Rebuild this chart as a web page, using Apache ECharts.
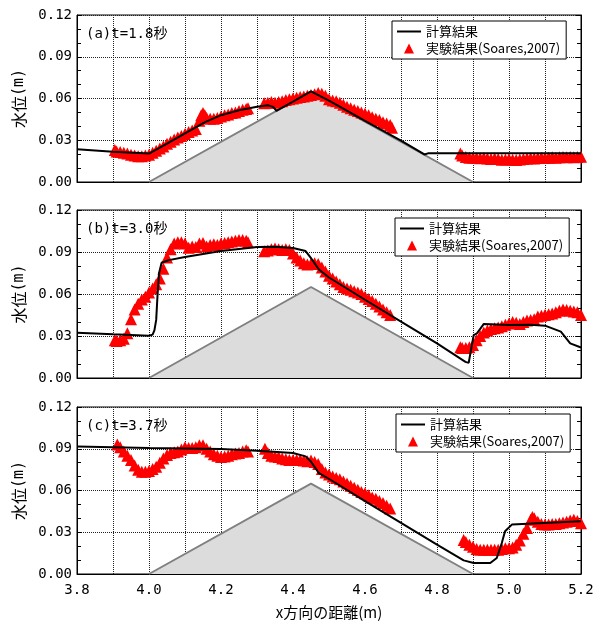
<!DOCTYPE html>
<html><head><meta charset="utf-8">
<script src="https://cdn.jsdelivr.net/npm/echarts@6/dist/echarts.min.js"></script>
<style>html,body{margin:0;padding:0;background:#fff}#c{width:601px;height:624px}</style>
</head><body><div id="c"></div>
<script>
const panelLabels = ['(a)t=1.8秒', '(b)t=3.0秒', '(c)t=3.7秒'];
const nameCalc = '計算結果';
const nameExp = '実験結果(Soares,2007)';
const bedX = [4.0, 4.45, 4.9];
const bedY = [0, 0.065, 0];

const calcA = [[3.8,0.0235],[3.9,0.0218],[4.0,0.0204],[4.05,0.0275],[4.1,0.035],[4.157,0.0432],[4.2,0.048],[4.25,0.0515],[4.3,0.054],[4.33,0.0552],[4.345,0.054],[4.354,0.0512],[4.36,0.052],[4.4,0.0578],[4.45,0.0652],[4.5,0.0585],[4.6,0.044],[4.7,0.0298],[4.765,0.0198],[4.775,0.0206],[5.2,0.0206]];
const expA = [[3.905,0.023],[3.91,0.022],[3.92,0.0215],[3.93,0.021],[3.94,0.0205],[3.95,0.0195],[3.96,0.019],[3.97,0.0185],[3.98,0.0185],[3.99,0.019],[4.0,0.0195],[4.01,0.021],[4.02,0.0225],[4.03,0.024],[4.04,0.0255],[4.05,0.0275],[4.06,0.029],[4.07,0.0305],[4.08,0.032],[4.09,0.033],[4.1,0.0345],[4.11,0.036],[4.12,0.037],[4.13,0.038],[4.14,0.044],[4.145,0.048],[4.15,0.0495],[4.155,0.048],[4.16,0.046],[4.17,0.0455],[4.18,0.0455],[4.19,0.046],[4.2,0.047],[4.21,0.048],[4.22,0.0485],[4.23,0.0495],[4.24,0.05],[4.25,0.051],[4.26,0.052],[4.27,0.0525],[4.275,0.053],
[4.32,0.0565],[4.33,0.057],[4.34,0.0575],[4.35,0.057],[4.36,0.0575],[4.37,0.058],[4.38,0.059],[4.39,0.0595],[4.4,0.06],[4.41,0.0605],[4.42,0.061],[4.43,0.0615],[4.44,0.062],[4.45,0.0625],[4.46,0.063],[4.47,0.064],[4.48,0.0635],[4.49,0.062],[4.5,0.0595],[4.51,0.0585],[4.52,0.058],[4.53,0.057],[4.54,0.0555],[4.55,0.054],[4.56,0.053],[4.57,0.052],[4.58,0.051],[4.59,0.05],[4.6,0.049],[4.61,0.048],[4.62,0.0465],[4.63,0.0455],[4.64,0.0445],[4.65,0.043],[4.66,0.042],[4.67,0.041],[4.675,0.039],
[4.865,0.0205],[4.87,0.019],[4.88,0.018],[4.89,0.0175],[4.9,0.0175],[4.91,0.0172],[4.92,0.017],[4.93,0.0172],[4.94,0.0168],[4.95,0.0165],[4.96,0.0168],[4.97,0.0165],[4.98,0.016],[4.99,0.0162],[5.0,0.0165],[5.01,0.016],[5.02,0.0158],[5.03,0.0162],[5.04,0.0165],[5.05,0.0168],[5.06,0.017],[5.07,0.0168],[5.08,0.0172],[5.09,0.0175],[5.1,0.0172],[5.11,0.0175],[5.12,0.0178],[5.13,0.0175],[5.14,0.0178],[5.15,0.018],[5.16,0.0178],[5.17,0.018],[5.18,0.0178],[5.19,0.018],[5.2,0.0182]];

const calcB = [[3.8,0.0324],[3.9,0.0312],[4.0,0.0302],[4.01,0.031],[4.015,0.034],[4.02,0.0415],[4.024,0.0607],[4.028,0.075],[4.035,0.0823],[4.055,0.0842],[4.1,0.0864],[4.2,0.0907],[4.3,0.0936],[4.35,0.0938],[4.4,0.0929],[4.435,0.0907],[4.449,0.086],[4.472,0.0775],[4.5,0.0718],[4.6,0.0559],[4.7,0.0403],[4.8,0.0247],[4.879,0.0115],[4.888,0.0108],[4.902,0.0307],[4.911,0.0319],[4.93,0.0386],[5.0,0.0379],[5.06,0.038],[5.1,0.0374],[5.144,0.0331],[5.17,0.0247],[5.2,0.0218]];
const expB = [[3.905,0.027],[3.91,0.0265],[3.92,0.027],[3.93,0.028],[3.94,0.032],[3.95,0.042],[3.96,0.049],[3.97,0.053],[3.98,0.056],[3.99,0.058],[4.0,0.061],[4.01,0.064],[4.02,0.067],[4.03,0.071],[4.04,0.078],[4.05,0.086],[4.06,0.092],[4.07,0.096],[4.08,0.097],[4.09,0.097],[4.1,0.096],[4.11,0.093],[4.12,0.094],[4.13,0.0935],[4.14,0.096],[4.15,0.0965],[4.16,0.094],[4.17,0.095],[4.18,0.0955],[4.19,0.095],[4.2,0.096],[4.21,0.0965],[4.22,0.097],[4.23,0.0975],[4.24,0.098],[4.25,0.0985],[4.26,0.0985],[4.27,0.098],[4.275,0.097],
[4.32,0.0905],[4.33,0.091],[4.34,0.092],[4.35,0.0925],[4.36,0.092],[4.37,0.0915],[4.38,0.092],[4.39,0.0915],[4.4,0.089],[4.41,0.086],[4.42,0.084],[4.43,0.082],[4.44,0.081],[4.45,0.0815],[4.46,0.082],[4.47,0.0815],[4.48,0.079],[4.49,0.076],[4.5,0.073],[4.51,0.071],[4.52,0.069],[4.53,0.067],[4.54,0.065],[4.55,0.064],[4.56,0.063],[4.57,0.062],[4.58,0.061],[4.59,0.06],[4.6,0.058],[4.61,0.0565],[4.62,0.055],[4.63,0.053],[4.64,0.051],[4.65,0.049],[4.66,0.047],[4.67,0.045],
[4.865,0.022],[4.87,0.0215],[4.88,0.0215],[4.89,0.022],[4.9,0.0235],[4.91,0.027],[4.92,0.03],[4.93,0.0325],[4.94,0.034],[4.95,0.035],[4.96,0.0355],[4.97,0.036],[4.98,0.037],[4.99,0.038],[5.0,0.039],[5.01,0.04],[5.02,0.0395],[5.03,0.0385],[5.04,0.04],[5.05,0.041],[5.06,0.0415],[5.07,0.042],[5.08,0.044],[5.09,0.0445],[5.1,0.045],[5.11,0.0455],[5.12,0.046],[5.13,0.047],[5.14,0.048],[5.15,0.049],[5.16,0.0485],[5.17,0.048],[5.18,0.0475],[5.19,0.047],[5.2,0.045]];

const calcC = [[3.8,0.0917],[4.0,0.0905],[4.2,0.0898],[4.3,0.0886],[4.4,0.0869],[4.435,0.0845],[4.449,0.081],[4.472,0.0725],[4.503,0.0679],[4.6,0.0523],[4.7,0.0367],[4.8,0.0211],[4.874,0.0098],[4.902,0.0079],[4.948,0.0079],[4.966,0.0115],[4.98,0.0223],[4.989,0.0307],[5.008,0.0355],[5.2,0.0379]];
const expC = [[3.912,0.093],[3.92,0.091],[3.93,0.088],[3.94,0.085],[3.95,0.082],[3.96,0.078],[3.97,0.075],[3.98,0.0735],[3.99,0.0735],[4.0,0.074],[4.01,0.0755],[4.02,0.077],[4.03,0.08],[4.04,0.083],[4.05,0.0855],[4.06,0.087],[4.07,0.0875],[4.08,0.088],[4.09,0.0895],[4.1,0.091],[4.11,0.0905],[4.12,0.0905],[4.13,0.091],[4.14,0.0925],[4.15,0.0925],[4.16,0.09],[4.17,0.088],[4.18,0.086],[4.19,0.085],[4.2,0.084],[4.21,0.0845],[4.22,0.085],[4.23,0.086],[4.24,0.0865],[4.25,0.087],[4.26,0.088],[4.27,0.089],[4.275,0.088],
[4.322,0.09],[4.33,0.087],[4.34,0.085],[4.35,0.0845],[4.36,0.084],[4.37,0.083],[4.38,0.0825],[4.39,0.082],[4.4,0.082],[4.41,0.082],[4.42,0.082],[4.43,0.0815],[4.44,0.081],[4.45,0.0815],[4.46,0.0805],[4.47,0.079],[4.48,0.0755],[4.49,0.073],[4.5,0.0715],[4.51,0.07],[4.52,0.069],[4.53,0.068],[4.54,0.0665],[4.55,0.065],[4.56,0.0635],[4.57,0.062],[4.58,0.0605],[4.59,0.059],[4.6,0.058],[4.61,0.0565],[4.62,0.055],[4.63,0.054],[4.64,0.0525],[4.65,0.051],[4.66,0.049],[4.67,0.047],
[4.874,0.0245],[4.88,0.023],[4.89,0.021],[4.9,0.0195],[4.91,0.018],[4.92,0.0175],[4.93,0.0175],[4.94,0.0175],[4.95,0.0175],[4.96,0.0175],[4.97,0.0175],[4.98,0.018],[4.99,0.0185],[5.0,0.0185],[5.01,0.019],[5.02,0.021],[5.03,0.024],[5.04,0.029],[5.05,0.033],[5.06,0.039],[5.065,0.041],[5.07,0.04],[5.08,0.0375],[5.09,0.036],[5.1,0.0355],[5.11,0.0355],[5.12,0.036],[5.13,0.036],[5.14,0.0365],[5.15,0.037],[5.16,0.0375],[5.17,0.0385],[5.18,0.039],[5.19,0.038],[5.2,0.0365]];

const expData = [expA, expB, expC];
const calcData = [calcA, calcB, calcC];
const gridTops = [15, 210, 407];
const gridHeights = [167, 168, 167];
const legendPos = [[392, 21], [395, 218], [396, 414]];

const numFont = "'DejaVu Sans Mono','Noto Sans CJK JP',monospace";
const cjkFont = "'Noto Sans CJK JP','DejaVu Sans',sans-serif";

const chart = echarts.init(document.getElementById('c'), null, {renderer: 'canvas'});
const grid = [], xAxis = [], yAxis = [], series = [], legend = [], title = [];
for (let i = 0; i < 3; i++) {
  grid.push({left: 77, top: gridTops[i], width: 504, height: gridHeights[i], show: true, borderColor: '#000', borderWidth: 1, backgroundColor: 'transparent', outerBoundsMode: 'none'});
  const last = i === 2;
  xAxis.push({
    type: 'value', gridIndex: i, min: 3.8, max: 5.2, interval: 0.1,
    axisLine: {show: true, onZero: false, lineStyle: {color: '#000', width: 1}},
    axisTick: {show: false},
    splitLine: {show: true, lineStyle: {color: '#222', type: 'dotted', width: 1}},
    axisLabel: {show: last, margin: 9, color: '#000', fontSize: 14, fontFamily: numFont,
      formatter: v => (Math.round(v * 10) % 2 === 0 ? v.toFixed(1) : '')},
    name: last ? 'x方向の距離(m)' : '', nameLocation: 'middle', nameGap: 31,
    nameTextStyle: {color: '#000', fontSize: 15, fontFamily: cjkFont}
  });
  const yBase = {
    type: 'value', gridIndex: i, min: 0, max: 0.12, interval: 0.03,
    axisLine: {show: true, onZero: false, lineStyle: {color: '#000', width: 1}},
    axisTick: {show: true, inside: true, length: 5, lineStyle: {color: '#000'}},
    minorTick: {show: true, splitNumber: 3, length: 4, lineStyle: {color: '#000'}}
  };
  yAxis.push(Object.assign({}, yBase, {
    position: 'left',
    splitLine: {show: true, lineStyle: {color: '#222', type: 'dotted', width: 1}},
    axisLabel: {show: true, margin: 5, color: '#000', fontSize: 14, fontFamily: numFont, formatter: v => v.toFixed(2)},
    name: '{a|水位}{b|(m)}', nameLocation: 'middle', nameRotate: 90, nameGap: 43,
    nameTextStyle: {color: '#000', fontSize: 16, fontFamily: cjkFont,
      rich: {a: {fontSize: 16, fontFamily: cjkFont, color: '#000'}, b: {fontSize: 15, fontFamily: "'DejaVu Sans Mono'", color: '#000'}}}
  }));
  yAxis.push(Object.assign({}, yBase, {
    position: 'right', splitLine: {show: false}, axisLabel: {show: false}
  }));
  series.push({
    name: '地形', type: 'line', xAxisIndex: i, yAxisIndex: 2 * i, z: 1,
    data: bedX.map((x, k) => [x, bedY[k]]), symbol: 'none', silent: true,
    lineStyle: {color: '#808080', width: 2}, areaStyle: {color: '#dcdcdc', opacity: 1}
  });
  series.push({
    name: nameExp, type: 'scatter', xAxisIndex: i, yAxisIndex: 2 * i, z: 3,
    data: expData[i], symbol: 'triangle', symbolSize: 12, itemStyle: {color: '#ff0000', opacity: 1}
  });
  series.push({
    name: nameCalc, type: 'line', xAxisIndex: i, yAxisIndex: 2 * i, z: 4,
    data: calcData[i], symbol: 'none', lineStyle: {color: '#000', width: 2}, itemStyle: {color: '#000'}
  });
  legend.push({
    left: legendPos[i][0], top: legendPos[i][1], orient: 'vertical', selectedMode: false,
    itemWidth: 24, itemHeight: 10, itemGap: 4, itemTextGap: 8, padding: [4, 6, 4, 4],
    symbolKeepAspect: true,
    borderColor: '#000', borderWidth: 1, backgroundColor: '#fff',
    textStyle: {color: '#000', fontSize: 13, fontFamily: cjkFont},
    data: [
      {name: nameCalc, itemStyle: {opacity: 0, color: 'rgba(0,0,0,0)', borderWidth: 0}},
      {name: nameExp, icon: 'path://M5,0L10,10L0,10Z', itemStyle: {color: '#ff0000', opacity: 1}}
    ]
  });
  title.push({
    text: panelLabels[i], left: 86, top: gridTops[i] + 12, padding: 0,
    textStyle: {color: '#000', fontSize: 14, fontWeight: 'normal', fontFamily: numFont}
  });
}
chart.setOption({animation: false, backgroundColor: '#fff', grid, xAxis, yAxis, series, legend, title});
</script>
</body></html>
